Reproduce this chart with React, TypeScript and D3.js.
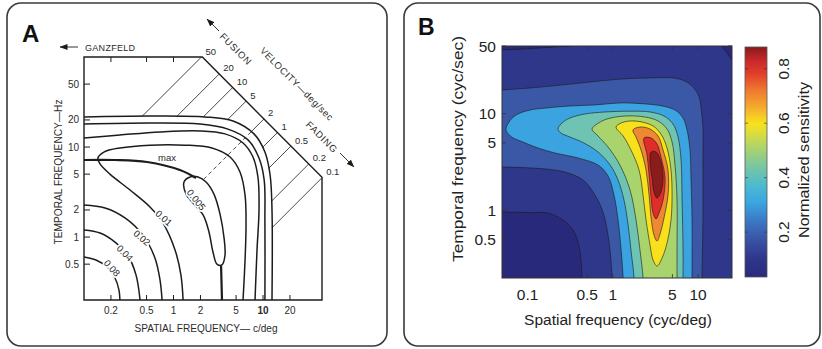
import React from "react";
import * as d3 from "d3";

type P = [number, number];

// ================= Panel A (scanned threshold contours) =================
const A_X_TICKS = [0.2, 0.5, 1, 2, 5, 10, 20];
const A_X_TICK_LABELS = ["0.2", "0.5", "1", "2", "5", "10", "20"];
const A_Y_TICKS = [0.5, 1, 2, 5, 10, 20, 50];
const A_Y_TICK_LABELS = ["0.5", "1", "2", "5", "10", "20", "50"];
const A_TOP_TICKS = [0.2, 0.5, 1];
const A_VELOCITIES = [50, 20, 10, 5, 2, 1, 0.5, 0.2, 0.1];
const A_VELOCITY_LABELS = ["50", "20", "10", "5", "2", "1", "0.5", "0.2", "0.1"];
const A_EDGE_PRODUCT = 210; // SF x TF along the diagonal edge of the plot
const A_DASHED_VELOCITY = 2;

const A_C008_INNER: P[] = [[0.1, 0.601], [0.136, 0.556], [0.181, 0.465], [0.222, 0.351], [0.246, 0.258], [0.252, 0.2]];
const A_C004_INNER: P[] = [[0.1, 1.2], [0.151, 1.11], [0.222, 0.88], [0.31, 0.62], [0.381, 0.38], [0.423, 0.2]];
const A_C002_INNER: P[] = [[0.1, 2.27], [0.172, 2.1], [0.287, 1.63], [0.456, 1.05], [0.62, 0.586], [0.707, 0.333], [0.745, 0.2]];
const A_C001: P[] = [[1.28, 0.2], [1.21, 0.38], [1.04, 0.72], [0.764, 1.43], [0.546, 2.16], [0.327, 3.33], [0.195, 5.0], [0.151, 6.5], [0.143, 7.55], [0.167, 8.8], [0.252, 9.76], [0.546, 10.5], [1.34, 10.5], [2.69, 9.76], [4.28, 7.75], [5.53, 5.28], [6.3, 2.93], [6.46, 1.36], [6.3, 0.556], [5.98, 0.2]];
const A_C002_OUTER: P[] = [[0.1, 12.6], [0.252, 13.6], [0.707, 14.7], [1.98, 15.1], [3.76, 14.0], [5.98, 11.1], [7.73, 7.75], [8.8, 4.53], [9.02, 2.0], [8.57, 0.718], [8.14, 0.2]];
const A_C004_OUTER: P[] = [[0.1, 18.0], [0.546, 18.5], [1.98, 18.0], [4.06, 15.8], [6.8, 12.0], [9.02, 7.55], [10.3, 4.31], [10.5, 1.55], [10.5, 0.2]];
const A_C008_OUTER: P[] = [[0.1, 21.6], [0.546, 22.1], [2.25, 21.6], [4.62, 19.5], [7.93, 14.0], [10.5, 8.81], [12.0, 4.89], [12.6, 2.0], [12.6, 0.2]];
const A_MAX_UPPER: P[] = [[0.1, 7.18], [0.222, 7.18], [0.506, 6.82], [1.18, 5.55], [1.78, 4.53]];
const A_MAX_LOWER: P[] = [[3.4, 0.477], [3.48, 0.2]];
const A_C0005: P[] = [[1.31, 4.09], [1.53, 4.65], [1.88, 4.65], [2.31, 4.09], [2.83, 3.0], [3.31, 1.8], [3.67, 0.98], [3.76, 0.63], [3.48, 0.49], [3.06, 0.5], [2.76, 0.683], [2.49, 1.14], [2.14, 1.76], [1.65, 2.39], [1.38, 3.0]];
const A_LEVEL_LABELS = ["0.08", "0.04", "0.02", "0.01", "0.005", "max"];
const A_LEVEL_LABEL_POS: P[] = [[0.206, 0.453], [0.287, 0.665], [0.445, 0.98], [0.78, 1.63], [1.8, 2.6], [0.845, 7.6]];
const A_LEVEL_LABEL_ROT = [48, 45, 40, 42, 52, 0];

// ================= Panel B (normalized sensitivity contour map) =================
const B_X_TICKS = [0.1, 0.5, 1, 5, 10];
const B_X_TICK_LABELS = ["0.1", "0.5", "1", "5", "10"];
const B_Y_TICKS = [0.5, 1, 5, 10, 50];
const B_Y_TICK_LABELS = ["0.5", "1", "5", "10", "50"];
const B_CB_TICKS = [0.2, 0.4, 0.6, 0.8];
const B_CB_TICK_LABELS = ["0.2", "0.4", "0.6", "0.8"];
const B_CB_MIN = 0.035;
const B_CB_MAX = 0.88;

// iso-sensitivity regions, [spatial freq, temporal freq]
const B_L1_LOWLEFT: P[] = [[0.035, 0.96], [0.05, 0.96], [0.107, 0.95], [0.173, 0.94], [0.26, 0.795], [0.34, 0.627], [0.39, 0.47], [0.423, 0.307], [0.434, 0.2], [0.447, 0.12], [0.035, 0.12]];
const B_L1_TOPLEFT: P[] = [[0.035, 45.5], [0.05, 45.5], [0.107, 47.1], [0.209, 48.9], [0.332, 50.3], [0.54, 58], [0.035, 60]];
const B_L1_TOPRIGHT: P[] = [[16.3, 60], [19.1, 50], [21.9, 42.3], [25, 35.8], [31, 30.3], [36, 30.3], [36, 60]];
const B_L3: P[] = [[0.035, 17.6], [0.05, 17.6], [0.14, 18.8], [0.411, 20.7], [1.28, 22.8], [2.73, 23.4], [5.08, 23.4], [7.03, 21.7], [8.73, 18.8], [10.3, 14.9], [10.8, 11.7], [11.4, 7.27], [11.4, 3.32], [11.4, 0.8], [11.1, 0.2], [11.1, 0.12], [0.977, 0.12], [0.977, 0.2], [0.95, 0.307], [0.877, 0.556], [0.766, 0.962], [0.617, 1.44], [0.447, 2.06], [0.274, 2.49], [0.16, 2.68], [0.05, 2.81], [0.035, 2.81]];
const B_L4: P[] = [[0.0557, 6.77], [0.0604, 8.19], [0.073, 9.68], [0.107, 10.9], [0.16, 11.4], [0.314, 12.0], [0.617, 12.3], [1.21, 12.9], [2.38, 12.6], [3.78, 12.0], [5.36, 10.9], [6.66, 9.01], [7.42, 6.77], [8.04, 4.21], [8.26, 2.06], [8.49, 0.8], [8.49, 0.2], [8.49, 0.12], [1.35, 0.12], [1.32, 0.2], [1.25, 0.389], [1.15, 0.8], [1.03, 1.44], [0.877, 2.27], [0.67, 2.94], [0.39, 3.48], [0.209, 3.92], [0.132, 4.41], [0.088, 5.09], [0.065, 5.73]];
const B_L5: P[] = [[0.227, 6.93], [0.253, 8.0], [0.314, 9.01], [0.47, 9.91], [0.81, 10.4], [1.59, 10.6], [2.73, 10.4], [3.98, 9.45], [5.08, 7.81], [5.82, 5.73], [6.31, 3.32], [6.49, 1.28], [6.66, 0.389], [6.66, 0.2], [6.66, 0.12], [1.77, 0.12], [1.77, 0.2], [1.63, 0.389], [1.51, 0.706], [1.35, 1.28], [1.15, 2.06], [0.93, 2.94], [0.67, 4.01], [0.458, 4.97], [0.314, 5.73], [0.246, 6.3]];
const B_L6: P[] = [[0.569, 6.93], [0.652, 7.81], [0.853, 8.8], [1.39, 9.45], [2.38, 9.23], [3.39, 8.39], [4.32, 6.93], [4.95, 5.09], [5.36, 2.94], [5.66, 1.28], [5.66, 0.389], [5.66, 0.2], [5.66, 0.12], [2.26, 0.12], [2.26, 0.2], [2.08, 0.389], [1.87, 0.795], [1.59, 1.62], [1.21, 2.94], [0.877, 4.52], [0.67, 5.87]];
const B_L7: P[] = [[1.09, 7.27], [1.25, 8.0], [1.59, 8.39], [2.2, 8.19], [2.96, 7.45], [3.67, 6.15], [4.32, 4.41], [4.81, 2.61], [4.95, 1.44], [4.81, 0.795], [4.32, 0.46], [3.78, 0.322], [3.3, 0.266], [2.96, 0.307], [2.73, 0.438], [2.45, 0.795], [2.26, 1.44], [2.03, 2.61], [1.63, 4.21], [1.32, 5.87]];
const B_L8: P[] = [[1.72, 6.77], [2.08, 7.27], [2.73, 6.93], [3.39, 5.87], [3.88, 4.21], [4.44, 2.61], [4.44, 1.44], [3.98, 0.834], [3.58, 0.57], [3.3, 0.482], [3.04, 0.556], [2.81, 0.834], [2.66, 1.44], [2.45, 2.61], [2.14, 4.21], [1.87, 5.73]];
const B_L9: P[] = [[2.32, 5.6], [2.81, 5.6], [3.3, 4.85], [3.67, 3.56], [4.1, 2.16], [3.88, 1.28], [3.48, 0.94], [3.21, 0.815], [2.96, 0.94], [2.81, 1.34], [2.66, 2.32], [2.52, 3.73]];
const B_L10: P[] = [[2.81, 4.01], [3.21, 4.01], [3.67, 3.16], [3.88, 2.16], [3.67, 1.55], [3.3, 1.34], [3.04, 1.55], [2.88, 2.16], [2.73, 3.16]];

const B_BG_FILL = "#2f378b";
const B_REGIONS: { pts: P[]; fill: string }[] = [
  { pts: B_L1_LOWLEFT, fill: "#28297a" },
  { pts: B_L1_TOPLEFT, fill: "#28297a" },
  { pts: B_L1_TOPRIGHT, fill: "#28297a" },
  { pts: B_L3, fill: "#3a58a6" },
  { pts: B_L4, fill: "#3aa3e0" },
  { pts: B_L5, fill: "#6ec3b2" },
  { pts: B_L6, fill: "#a9d36c" },
  { pts: B_L7, fill: "#f7e01c" },
  { pts: B_L8, fill: "#ef8833" },
  { pts: B_L9, fill: "#de2d2a" },
  { pts: B_L10, fill: "#8b1c1c" },
];
const B_CB_STOPS: [number, string][] = [
  [0.035, "#2a2a7c"], [0.1, "#2f368a"], [0.17, "#3a52a4"], [0.24, "#3b78c4"], [0.31, "#3aa6e2"],
  [0.37, "#4cbad0"], [0.43, "#72c4a8"], [0.5, "#a4d274"], [0.56, "#d8dc40"], [0.6, "#f8e11c"],
  [0.66, "#f4aa2e"], [0.72, "#ee7a30"], [0.78, "#e2402a"], [0.83, "#c8282a"], [0.88, "#8a1a1c"],
];

const FONT = "'Liberation Sans', Arial, Helvetica, sans-serif";

function rayHit(p0: P, d: P, poly: P[], closed = false): P | null {
  let best = Infinity;
  let hit: P | null = null;
  const n = poly.length;
  const segs = closed ? n : n - 1;
  for (let i = 0; i < segs; i++) {
    const a = poly[i];
    const b = poly[(i + 1) % n];
    const ex = b[0] - a[0];
    const ey = b[1] - a[1];
    const den = d[0] * ey - d[1] * ex;
    if (Math.abs(den) < 1e-9) continue;
    const wx = a[0] - p0[0];
    const wy = a[1] - p0[1];
    const t = (wx * ey - wy * ex) / den;
    const u = (wx * d[1] - wy * d[0]) / den;
    if (t > 1e-6 && u >= 0 && u <= 1 && t < best) {
      best = t;
      hit = [p0[0] + t * d[0], p0[1] + t * d[1]];
    }
  }
  return hit;
}

export default function App() {
  // ---- Panel A scales ----
  const xA = d3.scaleLog().domain([0.1, 45.6]).range([84, 322]);
  const yA = d3.scaleLog().domain([0.2, 100]).range([300, 57]);
  const lineA = d3.line<P>().x((d) => xA(d[0])).y((d) => yA(d[1])).curve(d3.curveCatmullRom.alpha(0.5));
  const loopA = d3.line<P>().x((d) => xA(d[0])).y((d) => yA(d[1])).curve(d3.curveCatmullRomClosed.alpha(0.5));
  const topCornerSF = A_EDGE_PRODUCT / 100;
  const rightCornerTF = A_EDGE_PRODUCT / 45.6;
  const frameA = `M${xA(0.1)},${yA(100)} H${xA(topCornerSF)} L${xA(45.6)},${yA(rightCornerTF)} V${yA(0.2)} H${xA(0.1)} Z`;

  const outerPx: P[] = A_C008_OUTER.map((d) => [xA(d[0]), yA(d[1])]);
  const loopPx: P[] = A_C0005.map((d) => [xA(d[0]), yA(d[1])]);
  const dir: P = [-1, 1];
  const vel = A_VELOCITIES.map((v, i) => {
    const sf = Math.sqrt(A_EDGE_PRODUCT / v);
    const tf = Math.sqrt(A_EDGE_PRODUCT * v);
    const p0: P = [xA(sf), Math.max(yA(tf), 57)];
    const p1 = rayHit(p0, dir, outerPx) || p0;
    return { v, label: A_VELOCITY_LABELS[i], p0, p1 };
  });
  const dashedStart = vel.find((d) => d.v === A_DASHED_VELOCITY)!.p1;
  const dashedEnd = rayHit(dashedStart, dir, loopPx, true) || dashedStart;

  // ---- Panel B scales ----
  const xB = d3.scaleLog().domain([0.05, 25]).range([502, 732]);
  const yB = d3.scaleLog().domain([0.2, 50]).range([278, 46]);
  const regionB = d3.line<P>().x((d) => xB(d[0])).y((d) => yB(d[1])).curve(d3.curveCatmullRomClosed.alpha(0.5));
  const cb = d3.scaleLinear().domain([B_CB_MIN, B_CB_MAX]).range([277, 47]);

  const ink = "#1c1c1c";
  const txtA = "#2b2b2b";

  return (
    <svg width={822} height={349} viewBox="0 0 822 349" style={{ position: "absolute", left: 0, top: 0, background: "#fff" }} fontFamily={FONT}>
      <defs>
        <marker id="arrow" viewBox="0 0 8 6" refX="7.5" refY="3" markerWidth="8" markerHeight="6" markerUnits="userSpaceOnUse" orient="auto">
          <path d="M0,0 L8,3 L0,6 Z" fill={ink} />
        </marker>
        <clipPath id="bclip">
          <rect x={502} y={46} width={230} height={232} />
        </clipPath>
        <linearGradient id="cbgrad" x1="0" y1="1" x2="0" y2="0">
          {B_CB_STOPS.map(([v, c], i) => (
            <stop key={i} offset={(v - B_CB_MIN) / (B_CB_MAX - B_CB_MIN)} stopColor={c} />
          ))}
        </linearGradient>
      </defs>

      {/* panel borders */}
      <rect x={7} y={3} width={380} height={343} rx={14} fill="#fff" stroke="#3a3a3a" strokeWidth={1.6} />
      <rect x={404} y={3} width={416} height={343} rx={14} fill="#fff" stroke="#3a3a3a" strokeWidth={1.6} />

      {/* ================= Panel A ================= */}
      <text x={22} y={42} fontSize={24} fontWeight="bold" fill="#111">A</text>

      {/* GANZFELD arrow */}
      <line x1={78} y1={47} x2={60} y2={47} stroke={ink} strokeWidth={0.9} markerEnd="url(#arrow)" />
      <text x={85} y={50.5} fontSize={9} fill={txtA} letterSpacing={0.3}>GANZFELD</text>

      {/* velocity hatch lines */}
      {vel.map((d, i) => (
        <line key={i} x1={d.p0[0]} y1={d.p0[1]} x2={d.p1[0]} y2={d.p1[1]} stroke={ink} strokeWidth={0.8} />
      ))}
      <line x1={dashedStart[0]} y1={dashedStart[1]} x2={dashedEnd[0]} y2={dashedEnd[1]} stroke={ink} strokeWidth={0.8} strokeDasharray="4,3" />
      {vel.map((d, i) => (
        <text key={i} x={d.p0[0] + 4} y={d.p0[1] - 2.5} fontSize={9.5} fill={txtA}>{d.label}</text>
      ))}

      {/* frame */}
      <path d={frameA} fill="none" stroke={ink} strokeWidth={1.4} />
      {A_Y_TICKS.map((t, i) => (
        <g key={i}>
          <line x1={84} x2={90} y1={yA(t)} y2={yA(t)} stroke={ink} strokeWidth={1} />
          <text x={79} y={yA(t)} fontSize={10} textAnchor="end" dominantBaseline="central" fill={txtA}>{A_Y_TICK_LABELS[i]}</text>
        </g>
      ))}
      {A_X_TICKS.map((t, i) => (
        <g key={i}>
          <line x1={xA(t)} x2={xA(t)} y1={300} y2={295} stroke={ink} strokeWidth={1} />
          <text x={xA(t)} y={314} fontSize={10} textAnchor="middle" fill={txtA} fontWeight={A_X_TICK_LABELS[i] === "10" ? "bold" : "normal"}>{A_X_TICK_LABELS[i]}</text>
        </g>
      ))}
      {A_TOP_TICKS.map((t, i) => (
        <line key={i} x1={xA(t)} x2={xA(t)} y1={57} y2={62} stroke={ink} strokeWidth={1} />
      ))}

      {/* contours */}
      {[A_C008_INNER, A_C004_INNER, A_C002_INNER, A_C001, A_C002_OUTER, A_C004_OUTER, A_C008_OUTER].map((c, i) => (
        <path key={i} d={lineA(c) || ""} fill="none" stroke={ink} strokeWidth={1.5} />
      ))}
      <path d={loopA(A_C0005) || ""} fill="none" stroke={ink} strokeWidth={1.5} />
      <path d={lineA(A_MAX_UPPER) || ""} fill="none" stroke={ink} strokeWidth={2.2} />
      <path d={lineA(A_MAX_LOWER) || ""} fill="none" stroke={ink} strokeWidth={2.2} />
      {A_LEVEL_LABELS.map((s, i) => {
        const x = xA(A_LEVEL_LABEL_POS[i][0]);
        const y = yA(A_LEVEL_LABEL_POS[i][1]);
        return (
          <text key={i} transform={`translate(${x},${y}) rotate(${A_LEVEL_LABEL_ROT[i]})`} fontSize={9.5} textAnchor="middle" dominantBaseline="central" fill={txtA}
            stroke="#fff" strokeWidth={3.5} paintOrder="stroke" strokeLinejoin="round">{s}</text>
        );
      })}

      {/* diagonal annotations */}
      <line x1={219} y1={31} x2={207} y2={19} stroke={ink} strokeWidth={0.9} markerEnd="url(#arrow)" />
      <text transform="translate(236,49) rotate(45)" fontSize={9.5} textAnchor="middle" dominantBaseline="central" fill={txtA} letterSpacing={0.8}>FUSION</text>
      <text transform="translate(297,84) rotate(45)" fontSize={9.5} textAnchor="middle" dominantBaseline="central" fill={txtA} letterSpacing={0.6}>VELOCITY—deg/sec</text>
      <text transform="translate(322,137) rotate(45)" fontSize={9.5} textAnchor="middle" dominantBaseline="central" fill={txtA} letterSpacing={0.8}>FADING</text>
      <line x1={340} y1={153} x2={354} y2={167} stroke={ink} strokeWidth={0.9} markerEnd="url(#arrow)" />

      {/* axis titles */}
      <text x={206} y={332} fontSize={10} textAnchor="middle" fill={txtA} textLength={143} lengthAdjust="spacingAndGlyphs">SPATIAL FREQUENCY— c/deg</text>
      <text transform="translate(62,172) rotate(-90)" fontSize={10} textAnchor="middle" fill={txtA} textLength={145} lengthAdjust="spacingAndGlyphs">TEMPORAL FREQUENCY—Hz</text>

      {/* ================= Panel B ================= */}
      <text x={418} y={35} fontSize={23} fontWeight="bold" fill="#111">B</text>
      <g clipPath="url(#bclip)">
        <rect x={502} y={46} width={230} height={232} fill={B_BG_FILL} />
        {B_REGIONS.map((r, i) => (
          <path key={i} d={regionB(r.pts) || ""} fill={r.fill} stroke="#1a1a1a" strokeWidth={0.6} />
        ))}
      </g>
      <rect x={502} y={46} width={230} height={232} fill="none" stroke="#333" strokeWidth={1} />
      {B_X_TICKS.map((t, i) => (
        <g key={i}>
          <line x1={xB(t)} x2={xB(t)} y1={278} y2={274} stroke="#333" strokeWidth={0.8} />
          <line x1={xB(t)} x2={xB(t)} y1={46} y2={50} stroke="#333" strokeWidth={0.8} />
          <text x={xB(t)} y={300} fontSize={15.5} textAnchor="middle" fill="#222">{B_X_TICK_LABELS[i]}</text>
        </g>
      ))}
      {B_Y_TICKS.map((t, i) => (
        <g key={i}>
          <line x1={502} x2={506} y1={yB(t)} y2={yB(t)} stroke="#333" strokeWidth={0.8} />
          <line x1={732} x2={728} y1={yB(t)} y2={yB(t)} stroke="#333" strokeWidth={0.8} />
          <text x={496} y={yB(t)} fontSize={15.5} textAnchor="end" dominantBaseline="central" fill="#222">{B_Y_TICK_LABELS[i]}</text>
        </g>
      ))}
      <text x={618} y={325} fontSize={15.5} textAnchor="middle" fill="#222">Spatial frequency (cyc/deg)</text>
      <text transform="translate(463,149) rotate(-90)" fontSize={15.5} textAnchor="middle" fill="#222" textLength={226} lengthAdjust="spacingAndGlyphs">Temporal frequency (cyc/sec)</text>

      {/* colorbar */}
      <rect x={745} y={47} width={22} height={230} fill="url(#cbgrad)" stroke="#555" strokeWidth={0.8} />
      {B_CB_TICKS.map((t, i) => (
        <g key={i}>
          <line x1={745} x2={748} y1={cb(t)} y2={cb(t)} stroke="#333" strokeWidth={0.6} />
          <line x1={767} x2={764} y1={cb(t)} y2={cb(t)} stroke="#333" strokeWidth={0.6} />
          <text transform={`translate(789,${cb(t)}) rotate(-90)`} fontSize={15.5} textAnchor="middle" fill="#222">{B_CB_TICK_LABELS[i]}</text>
        </g>
      ))}
      <text transform="translate(809,160) rotate(-90)" fontSize={15.5} textAnchor="middle" fill="#222" textLength={156} lengthAdjust="spacingAndGlyphs">Normalized sensitivity</text>
    </svg>
  );
}
